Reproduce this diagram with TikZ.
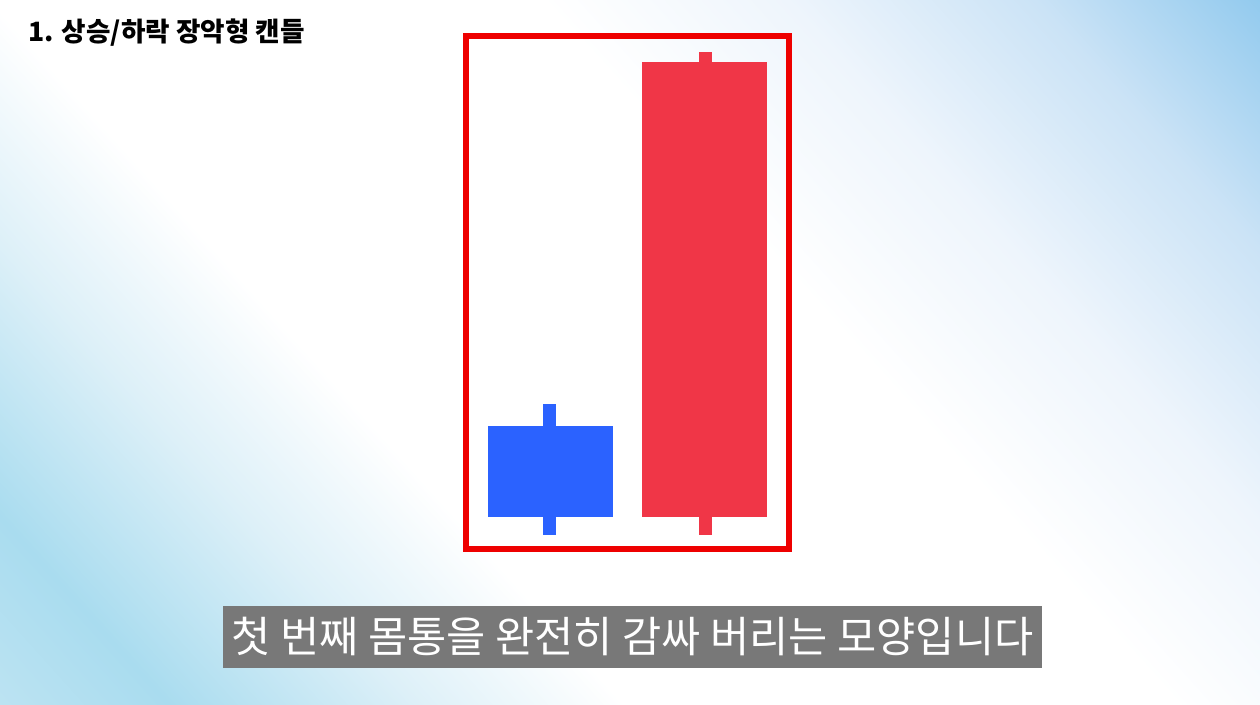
\documentclass[tikz,border=0pt]{standalone}
\usepackage{fontspec}
\usepackage{graphicx}
\usetikzlibrary{positioning}
\newfontfamily\krfont{Noto Sans CJK KR}
\definecolor{candleblue}{HTML}{2B62FF}
\definecolor{candlered}{HTML}{F03647}
\definecolor{framered}{HTML}{EE0000}
\definecolor{capgray}{HTML}{787878}
\definecolor{washA}{HTML}{BCE3F2}
\definecolor{washB}{HTML}{A9DCEF}
\definecolor{washC}{HTML}{DDF0F8}
\definecolor{washD}{HTML}{EEF5FC}
\definecolor{washE}{HTML}{CBE3F6}
\definecolor{washF}{HTML}{92CAEE}
% the path box spans 25bp..75bp of the shading
\pgfdeclarehorizontalshading{bgwash}{100bp}{color(0bp)=(washA); color(25bp)=(washA); color(29.5bp)=(washB); color(36bp)=(washC); color(41.5bp)=(white); color(56bp)=(white); color(62.5bp)=(washD); color(69bp)=(washE); color(75bp)=(washF); color(100bp)=(washF)}

\begin{document}
\begin{tikzpicture}[x=1pt,y=-1pt]
\useasboundingbox (0,0) rectangle (1260,704);
% Background
\fill[white] (0,0) rectangle (1260,704);
\begin{scope}
\clip (0,0) rectangle (1260,704);
\begin{scope}[transform canvas={rotate around={42:(630,352)}}]
\shade[shading=bgwash] (-75,-338) rectangle (1335,1042);
\end{scope}
\end{scope}
% Title
\node[anchor=west, inner sep=0pt, font=\krfont\bfseries\fontsize{26.6}{26.6}\selectfont] (title) at (28,32.5) {1. 상승/하락 장악형 캔들};
% Frame
\draw[framered, line width=6pt] (466,36) rectangle (789,549);
% Bullish candle
\fill[candleblue] (543,404) rectangle (556,535);
\fill[candleblue] (488,426) rectangle (613,517);
% Bearish candle
\fill[candlered] (699,52) rectangle (712,535);
\fill[candlered] (642,62) rectangle (767,517);
% Caption
\node[fill=capgray, text=white, inner sep=0pt, minimum width=819pt, minimum height=62pt] (caption) at (632.5,636.5) {};
\node[text=white, inner sep=0pt, font=\krfont\fontsize{42.6}{42.6}\selectfont] (captext) at (caption.center) {첫 번째 몸통을 완전히 감싸 버리는 모양입니다};
\end{tikzpicture}
\end{document}
